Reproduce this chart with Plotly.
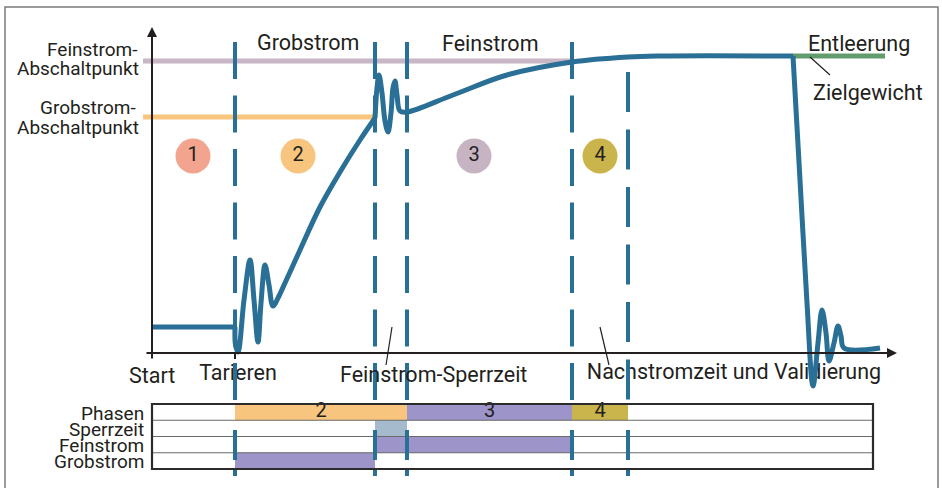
"""
Dosierablauf einer Waage: Gewichtsverlauf und Phasendiagramm
"""

import plotly.graph_objects as go

# Zeitpunkte der Phasengrenzen (Zeiteinheiten ab Start)
t_tarieren = 83
t_grob_aus = 223
t_sperr_ende = 255
t_fein_aus = 420
t_nach_ende = 476
t_entleeren = 641
t_ende = 733

# Gewichtsniveaus
w_ruhe = 26
w_grob_abschalt = 236
w_fein_abschalt = 292

# Gewichtsverlauf, abschnittsweise
ruhe_t = [0, 83]
ruhe_w = [26, 26]
grob_t = [83, 83.5, 86, 92, 98, 102, 106, 109, 113, 117, 121, 127, 133, 148, 168, 188, 208, 223]
grob_w = [26, 8, 1, 53, 93, 53, 11, 50, 88, 68, 47, 57, 70, 103, 146, 181, 213, 235]
fein_t = [223, 225, 227, 230, 233, 236, 239, 241, 243, 245, 248, 255, 301, 355, 420, 476, 508, 641]
fein_w = [235, 265, 278, 260, 232, 221, 240, 265, 272, 258, 242, 241, 258, 278, 291, 296, 297, 297]
entleer_t = [641, 648, 655, 661, 666, 670, 674, 677, 682, 686, 689, 692, 728]
entleer_w = [297, 173, 50, -33, 10, 43, 20, -8, 10, 27, 17, 5, 5]

# Phasendiagramm (Zeilen von oben nach unten)
zeilen = ["Phasen", "Sperrzeit", "Feinstrom", "Grobstrom"]
balken_zeile = [0, 0, 0, 1, 2, 3]
balken_start = [t_tarieren, t_sperr_ende, t_fein_aus, t_grob_aus, t_grob_aus, t_tarieren]
balken_ende = [t_sperr_ende, t_fein_aus, t_nach_ende, t_sperr_ende, t_fein_aus, t_grob_aus]
balken_text = ["2", "3", "4", "", "", ""]

# Phasenmarker
phasen_nr = ["1", "2", "3", "4"]
phasen_t = [41, 146, 322, 448]

BLAU = "#2A6F96"
TEXT = "#231F20"
FONT = "Roboto"
FS = 19      # Achsen- und Tabellenbeschriftung
FS_GROSS = 21.5
farbe_phase = ["#F2A48F", "#F8C57E", "#C6B4C2", "#C9B54B"]
farbe_balken = ["#F8C57E", "#9D95C9", "#C9B54B", "#A5BACD", "#9D95C9", "#9D95C9"]

fig = go.Figure()


def linie(x, y, color, width, dash=None, shape="linear"):
    fig.add_trace(go.Scatter(x=x, y=y, mode="lines",
                             line=dict(color=color, width=width, dash=dash, shape=shape),
                             hoverinfo="skip", showlegend=False))


def text_trace(x, y, s, size=FS):
    fig.add_trace(go.Scatter(x=[x], y=[y], mode="text", text=[s],
                             textfont=dict(family=FONT, size=size, color=TEXT),
                             textposition="middle center",
                             hoverinfo="skip", showlegend=False))


# Beschriftungen unter den Linien
text_trace(86, -22, "Tarieren", FS_GROSS)
text_trace(582, -21, "Nachstromzeit und Validierung", FS_GROSS)

# Tabelle
tab_oben = -51
zeile_h = 16.25
tab_rechts = 721
for z, t0, t1, c, s in zip(balken_zeile, balken_start, balken_ende, farbe_balken, balken_text):
    y1 = tab_oben - z * zeile_h
    y0 = y1 - zeile_h
    fig.add_shape(type="rect", x0=t0, x1=t1, y0=y0, y1=y1, fillcolor=c,
                  line=dict(width=0), layer="below")
    if s:
        text_trace((t0 + t1) / 2, (y0 + y1) / 2, s, size=20)
for i in range(1, len(zeilen)):
    y = tab_oben - i * zeile_h
    linie([0, tab_rechts], [y, y], "#6A6A6A", 1.2)
fig.add_shape(type="rect", x0=0, x1=tab_rechts, y0=tab_oben - 4 * zeile_h, y1=tab_oben,
              line=dict(color="#2B2B2B", width=2.2), layer="above")
for i, name in enumerate(zeilen):
    fig.add_annotation(x=-6, y=tab_oben - (i + 0.5) * zeile_h - 1, text=name, showarrow=False,
                       xanchor="right", yanchor="middle",
                       font=dict(family=FONT, size=FS, color=TEXT))

# Abschaltpunkte
linie([-9, t_fein_aus], [w_fein_abschalt, w_fein_abschalt], "#C8B6C4", 5)
linie([-9, t_grob_aus], [w_grob_abschalt, w_grob_abschalt], "#F8C57E", 5)

# gestrichelte Phasengrenzen
for t in [t_tarieren, t_grob_aus, t_sperr_ende, t_fein_aus]:
    linie([t, t], [-47, 326], BLAU, 4, dash="37px,16.5px")
    linie([t, t], [-77, -123], BLAU, 4, dash="30px,8px")
linie([t_nach_ende, t_nach_ende], [281, -47], BLAU, 4, dash="40px,17.5px")
linie([t_nach_ende, t_nach_ende], [-77, -123], BLAU, 4, dash="30px,8px")

# Entleerung
linie([t_entleeren, t_ende], [297, 297], "#629B6C", 5)

# Gewichtsverlauf
linie(ruhe_t, ruhe_w, BLAU, 5)
linie(grob_t, grob_w, BLAU, 5, shape="spline")
linie(fein_t, fein_w, BLAU, 5, shape="spline")
linie(entleer_t, entleer_w, BLAU, 5, shape="spline")

# Phasenmarker
fig.add_trace(go.Scatter(x=phasen_t, y=[197] * 4, mode="markers+text", text=phasen_nr,
                         marker=dict(size=35, color=farbe_phase, line=dict(width=0)),
                         textfont=dict(family=FONT, size=20, color=TEXT),
                         textposition="middle center", hoverinfo="skip", showlegend=False))

# Achsen mit Pfeilen
fig.add_annotation(x=0, y=326, ax=0, ay=-7, xref="x", yref="y", axref="x", ayref="y",
                   showarrow=True, arrowhead=2, arrowsize=1, arrowwidth=2, arrowcolor=TEXT, text="")
fig.add_annotation(x=745, y=0, ax=-7, ay=0, xref="x", yref="y", axref="x", ayref="y",
                   showarrow=True, arrowhead=2, arrowsize=1, arrowwidth=2, arrowcolor=TEXT, text="")
linie([t_tarieren, t_tarieren], [0, -6], TEXT, 2)

# Hinweislinien
linie([658, 678], [296, 278], TEXT, 1.2)
linie([240, 234], [26, -12], TEXT, 1.2)
linie([448, 457], [26, -12], TEXT, 1.2)

# Beschriftungen
labels = [
    (156, 311, "Grobstrom", "center", FS_GROSS),
    (338, 310, "Feinstrom", "center", FS_GROSS),
    (654, 310, "Entleerung", "left", FS_GROSS),
    (659, 261, "Zielgewicht", "left", FS_GROSS),
    (-12, 304, "Feinstrom-", "right", FS),
    (-11, 285, "Abschaltpunkt", "right", FS),
    (-14, 246, "Grobstrom-", "right", FS),
    (-11, 226, "Abschaltpunkt", "right", FS),
    (0, -22, "Start", "center", FS_GROSS),
    (281, -21, "Feinstrom-Sperrzeit", "center", FS_GROSS),
]
for x, y, s, anchor, size in labels:
    fig.add_annotation(x=x, y=y, text=s, showarrow=False, xanchor=anchor, yanchor="middle",
                       font=dict(family=FONT, size=size, color=TEXT))

# Rahmen
fig.add_shape(type="rect", x0=-147, x1=786, y0=-145, y1=346,
              line=dict(color="#7A7A7A", width=1.5), layer="above")

fig.update_layout(
    width=942, height=488,
    margin=dict(l=0, r=0, t=0, b=0),
    plot_bgcolor="white", paper_bgcolor="white",
    xaxis=dict(range=[-152, 790], visible=False, fixedrange=True),
    yaxis=dict(range=[-135, 353], visible=False, fixedrange=True),
    showlegend=False,
)

fig.write_html("out.html", config={"displayModeBar": False},
               post_script="document.body.style.margin='0';document.body.style.overflow='hidden';")
